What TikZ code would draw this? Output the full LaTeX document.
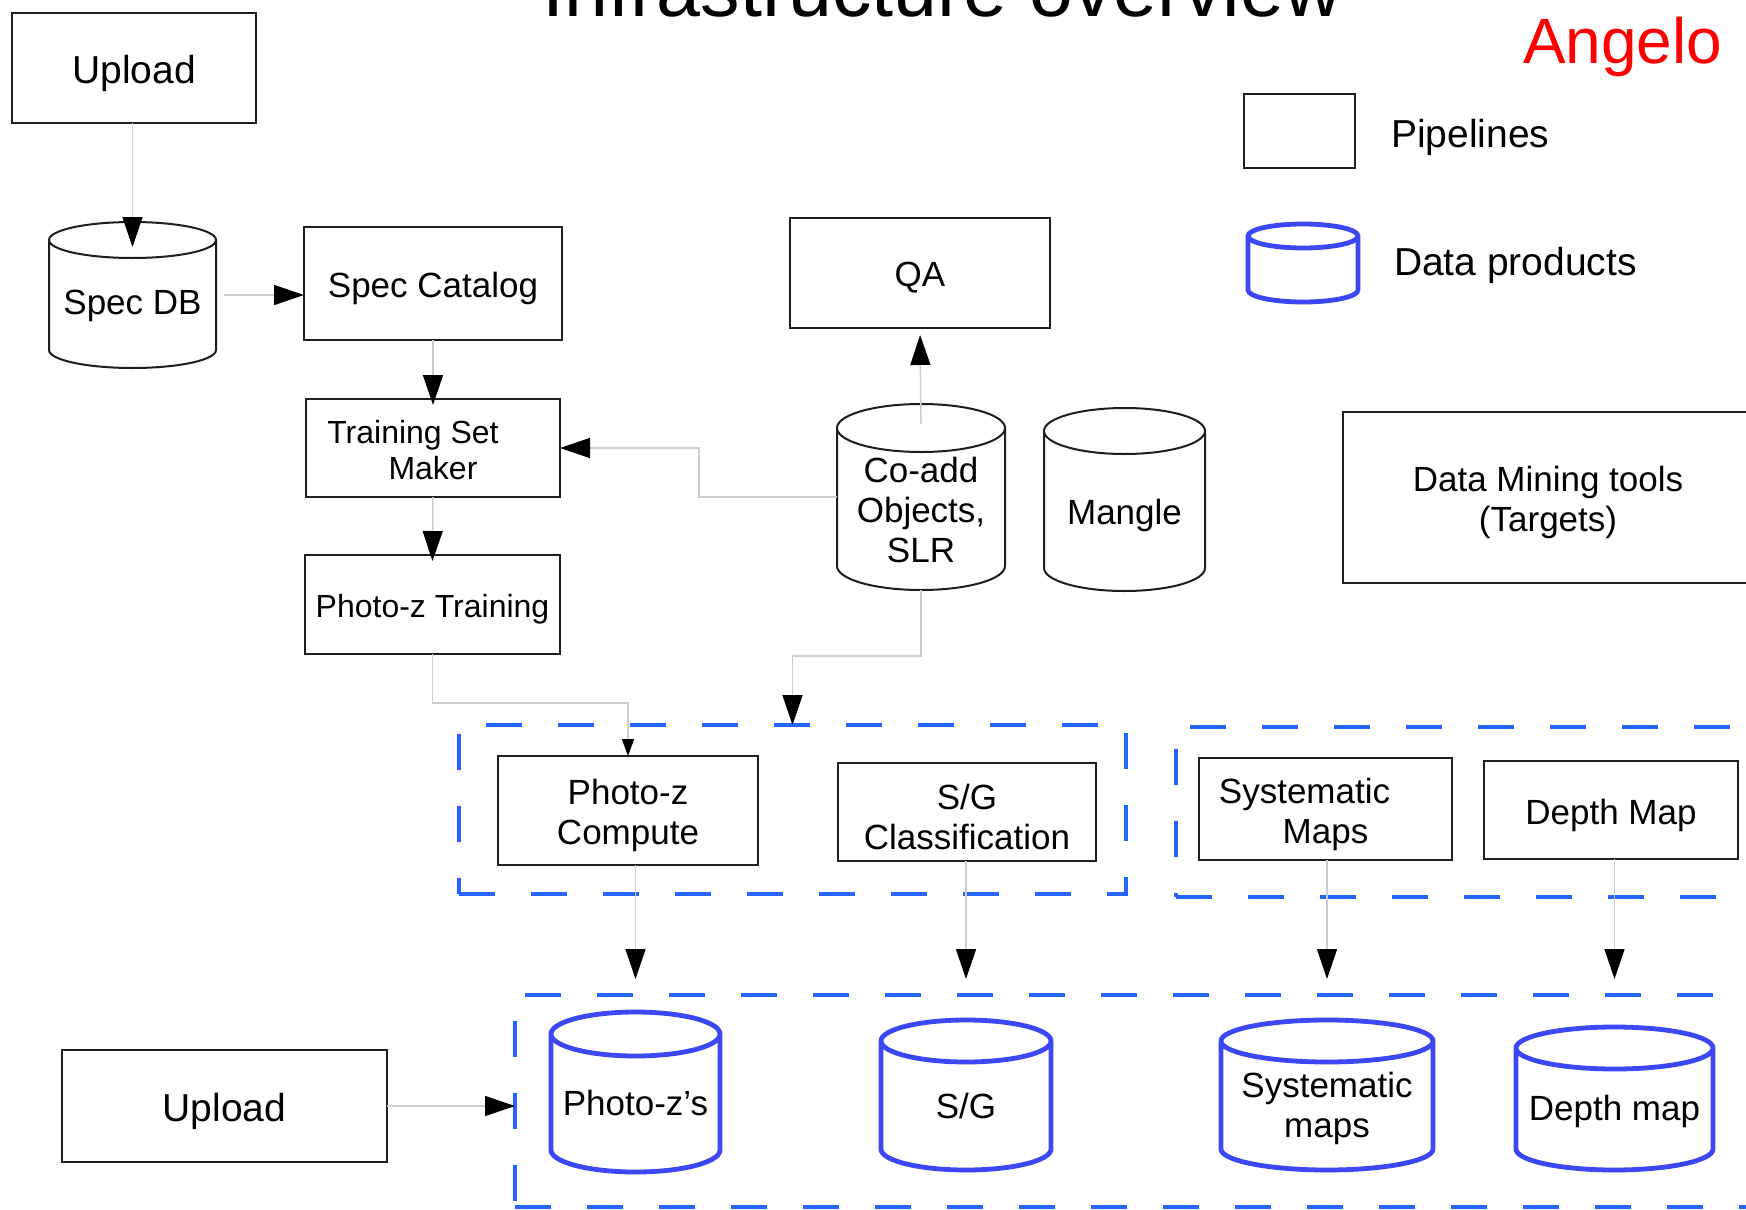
\documentclass[tikz,border=0pt]{standalone}
\usepackage{fontspec}
\setmainfont{Liberation Sans}
\usetikzlibrary{arrows.meta,calc}

\definecolor{grpblue}{RGB}{38,100,255}
\definecolor{dbblue}{RGB}{60,72,245}
\definecolor{linkgray}{RGB}{205,205,205}
\definecolor{edge}{RGB}{30,30,30}

% vertical cylinder outline over the bounding box of a node: #1 node, #2 ellipse y-radius, #3 style
\newcommand\cylout[3]{%
  \draw[#3] let \p1=(#1.north west), \p2=(#1.south east),
                \n1={0.5*(\x2-\x1)}, \n2={#2} in
    (\x1,\y1-\n2) -- (\x1,\y2+\n2)
    arc[start angle=180, end angle=360, x radius=\n1, y radius=\n2]
    -- (\x2,\y1-\n2)
    arc[start angle=0, end angle=360, x radius=\n1, y radius=\n2];}

\begin{document}
\begin{tikzpicture}[x=0.5pt,y=-0.5pt,
  every node/.style={inner sep=0pt, outer sep=0pt},
  txt/.style={font=\fontsize{17.5}{20}\selectfont, align=center},
  bigtxt/.style={font=\fontsize{19.5}{22}\selectfont},
  smalltxt/.style={font=\fontsize{16}{18}\selectfont},
  proc/.style={rectangle, draw=edge, line width=1.4pt},
  boxtxt/.style={txt, yshift=-2.5pt},
  db/.style={rectangle},
  dbtxt/.style={txt, yshift=-6.5pt},
  kcyl/.style={draw=edge, line width=1pt},
  bcyl/.style={draw=dbblue, line width=2.4pt},
  grp/.style={rectangle, draw=grpblue, line width=1.6pt, dash pattern=on 18pt off 18pt},
  link/.style={draw=linkgray, line width=0.75pt, -{Triangle[length=15pt,width=10pt,color=black]}},
  smalltip/.style={-{Triangle[length=8.5pt,width=6pt,color=black]}}
]
\path[use as bounding box, fill=white] (0,0) rectangle (1746,1210);

% heading and author
\node[font=\fontsize{39.5}{44}\selectfont, anchor=base] (title) at (942,17) {Infrastructure overview};
\node[font=\fontsize{32}{36}\selectfont, text=red, anchor=base west] (author) at (1523,63) {Angelo};

% legend
\node[proc, minimum width=55.5pt, minimum height=37pt] (legbox) at (1299.5,131) {};
\node[bigtxt, anchor=base west] (legboxtxt) at (1391,147) {Pipelines};
\node[db, minimum width=55pt, minimum height=39pt] (legdb) at (1303,263) {};
\node[bigtxt, anchor=base west] (legdbtxt) at (1394,275) {Data products};

% dashed groups
\node[grp, minimum width=333.5pt, minimum height=84.5pt] (grp1) at (792.5,809.5) {};
\node[grp, minimum width=312pt, minimum height=85pt] (grp3) at (1488,812) {};
\node[grp, minimum width=642.5pt, minimum height=106pt] (grp2) at (1157.5,1101) {};

% upper part
\node[proc, minimum width=122pt, minimum height=55pt,
      label={[boxtxt,bigtxt,name=up1txt]center:Upload}] (up1) at (134,68) {};
\node[db, minimum width=83.5pt, minimum height=73pt,
      label={[dbtxt,yshift=1pt,name=specdbtxt]center:Spec DB}] (specdb) at (132.5,295) {};
\node[proc, minimum width=129pt, minimum height=56.5pt,
      label={[boxtxt,name=speccattxt]center:Spec Catalog}] (speccat) at (433,283.5) {};
\node[proc, minimum width=130pt, minimum height=55pt,
      label={[boxtxt,name=qatxt]center:QA}] (qa) at (920,273) {};
\node[proc, minimum width=127pt, minimum height=49pt,
      label={[boxtxt,smalltxt,yshift=1.5pt,name=tsmtxt]center:{Training Set\hspace*{20pt}\\Maker}}] (tsm) at (433,448) {};
\node[proc, minimum width=127.5pt, minimum height=49.5pt,
      label={[boxtxt,smalltxt,name=pzttxt]center:Photo-z Training}] (pzt) at (432.5,604.5) {};
\node[db, minimum width=84pt, minimum height=93pt,
      label={[dbtxt,name=coaddtxt]center:{Co-add\\Objects,\\SLR}}] (coadd) at (921,497) {};
\node[db, minimum width=80.5pt, minimum height=91.5pt,
      label={[dbtxt,yshift=-1.5pt,name=mangletxt]center:Mangle}] (mangle) at (1124.5,499.5) {};
\node[proc, minimum width=205pt, minimum height=85.5pt,
      label={[boxtxt,name=miningtxt]center:{Data Mining tools\\(Targets)}}] (mining) at (1548,497.5) {};

% pipelines
\node[proc, minimum width=130pt, minimum height=54.5pt,
      label={[boxtxt,name=pzctxt]center:{Photo-z\\Compute}}] (pzc) at (628,810.5) {};
\node[proc, minimum width=129pt, minimum height=49pt,
      label={[boxtxt,name=sgctxt]center:{S/G\\Classification}}] (sgc) at (967,812) {};
\node[proc, minimum width=126.5pt, minimum height=51pt,
      label={[boxtxt,name=sysmtxt]center:{Systematic\hspace*{21pt}\\Maps}}] (sysm) at (1325.5,809) {};
\node[proc, minimum width=127pt, minimum height=49pt,
      label={[boxtxt,name=depmtxt]center:Depth Map}] (depm) at (1611,810) {};
\node[proc, minimum width=162.5pt, minimum height=56pt,
      label={[boxtxt,bigtxt,name=up2txt]center:Upload}] (up2) at (224.5,1106) {};

% data products
\node[db, minimum width=84.5pt, minimum height=80pt,
      label={[dbtxt,yshift=1pt,name=pzstxt]center:Photo-z's}] (pzs) at (635.5,1092) {};
\node[db, minimum width=85pt, minimum height=75pt,
      label={[dbtxt,yshift=1pt,name=sgtxt]center:S/G}] (sg) at (966,1095) {};
\node[db, minimum width=106pt, minimum height=75pt,
      label={[dbtxt,name=sysmapstxt]center:{Systematic\\maps}}] (sysmaps) at (1327,1095) {};
\node[db, minimum width=98.5pt, minimum height=71.5pt,
      label={[dbtxt,name=depthmaptxt]center:Depth map}] (depthmap) at (1614.5,1098.5) {};

% cylinder outlines
\cylout{specdb}{9pt}{kcyl}
\cylout{coadd}{12pt}{kcyl}
\cylout{mangle}{11.5pt}{kcyl}
\cylout{legdb}{6pt}{bcyl}
\cylout{pzs}{11pt}{bcyl}
\cylout{sg}{10.5pt}{bcyl}
\cylout{sysmaps}{10.5pt}{bcyl}
\cylout{depthmap}{10.5pt}{bcyl}

% connectors
\draw[link] (specdb.north |- up1.south) -- ([yshift=-12.5pt]specdb.north);
\draw[link, shorten <=4pt] (specdb.east) -- (specdb.east -| speccat.west);
\draw[link, shorten >=-3pt] (speccat.south) -- (tsm.north);
\draw[link, shorten >=-3pt] (tsm.south) -- (pzt.north);
\draw[link] (coadd.west) -- ++(-138,0) |- (tsm.east);
\draw[link, shorten >=3.5pt] ([yshift=-10pt]coadd.north) -- (qa.south);
\draw[link] (coadd.south) -- ++(0,66) -| (grp1.north);
\draw[link, smalltip] (pzt.south) -- ++(0,49) -| (pzc.north);
\draw[link, shorten >=8pt] (pzs.north |- pzc.south) -- (pzs.north |- grp2.north);
\draw[link, shorten >=8pt] (sg.north |- sgc.south) -- (sg.north |- grp2.north);
\draw[link, shorten >=8pt] (sysmaps.north |- sysm.south) -- (sysmaps.north |- grp2.north);
\draw[link, shorten >=8pt] (depthmap.north |- depm.south) -- (depthmap.north |- grp2.north);
\draw[link] (up2.east) -- (up2.east -| grp2.west);
\end{tikzpicture}
\end{document}
